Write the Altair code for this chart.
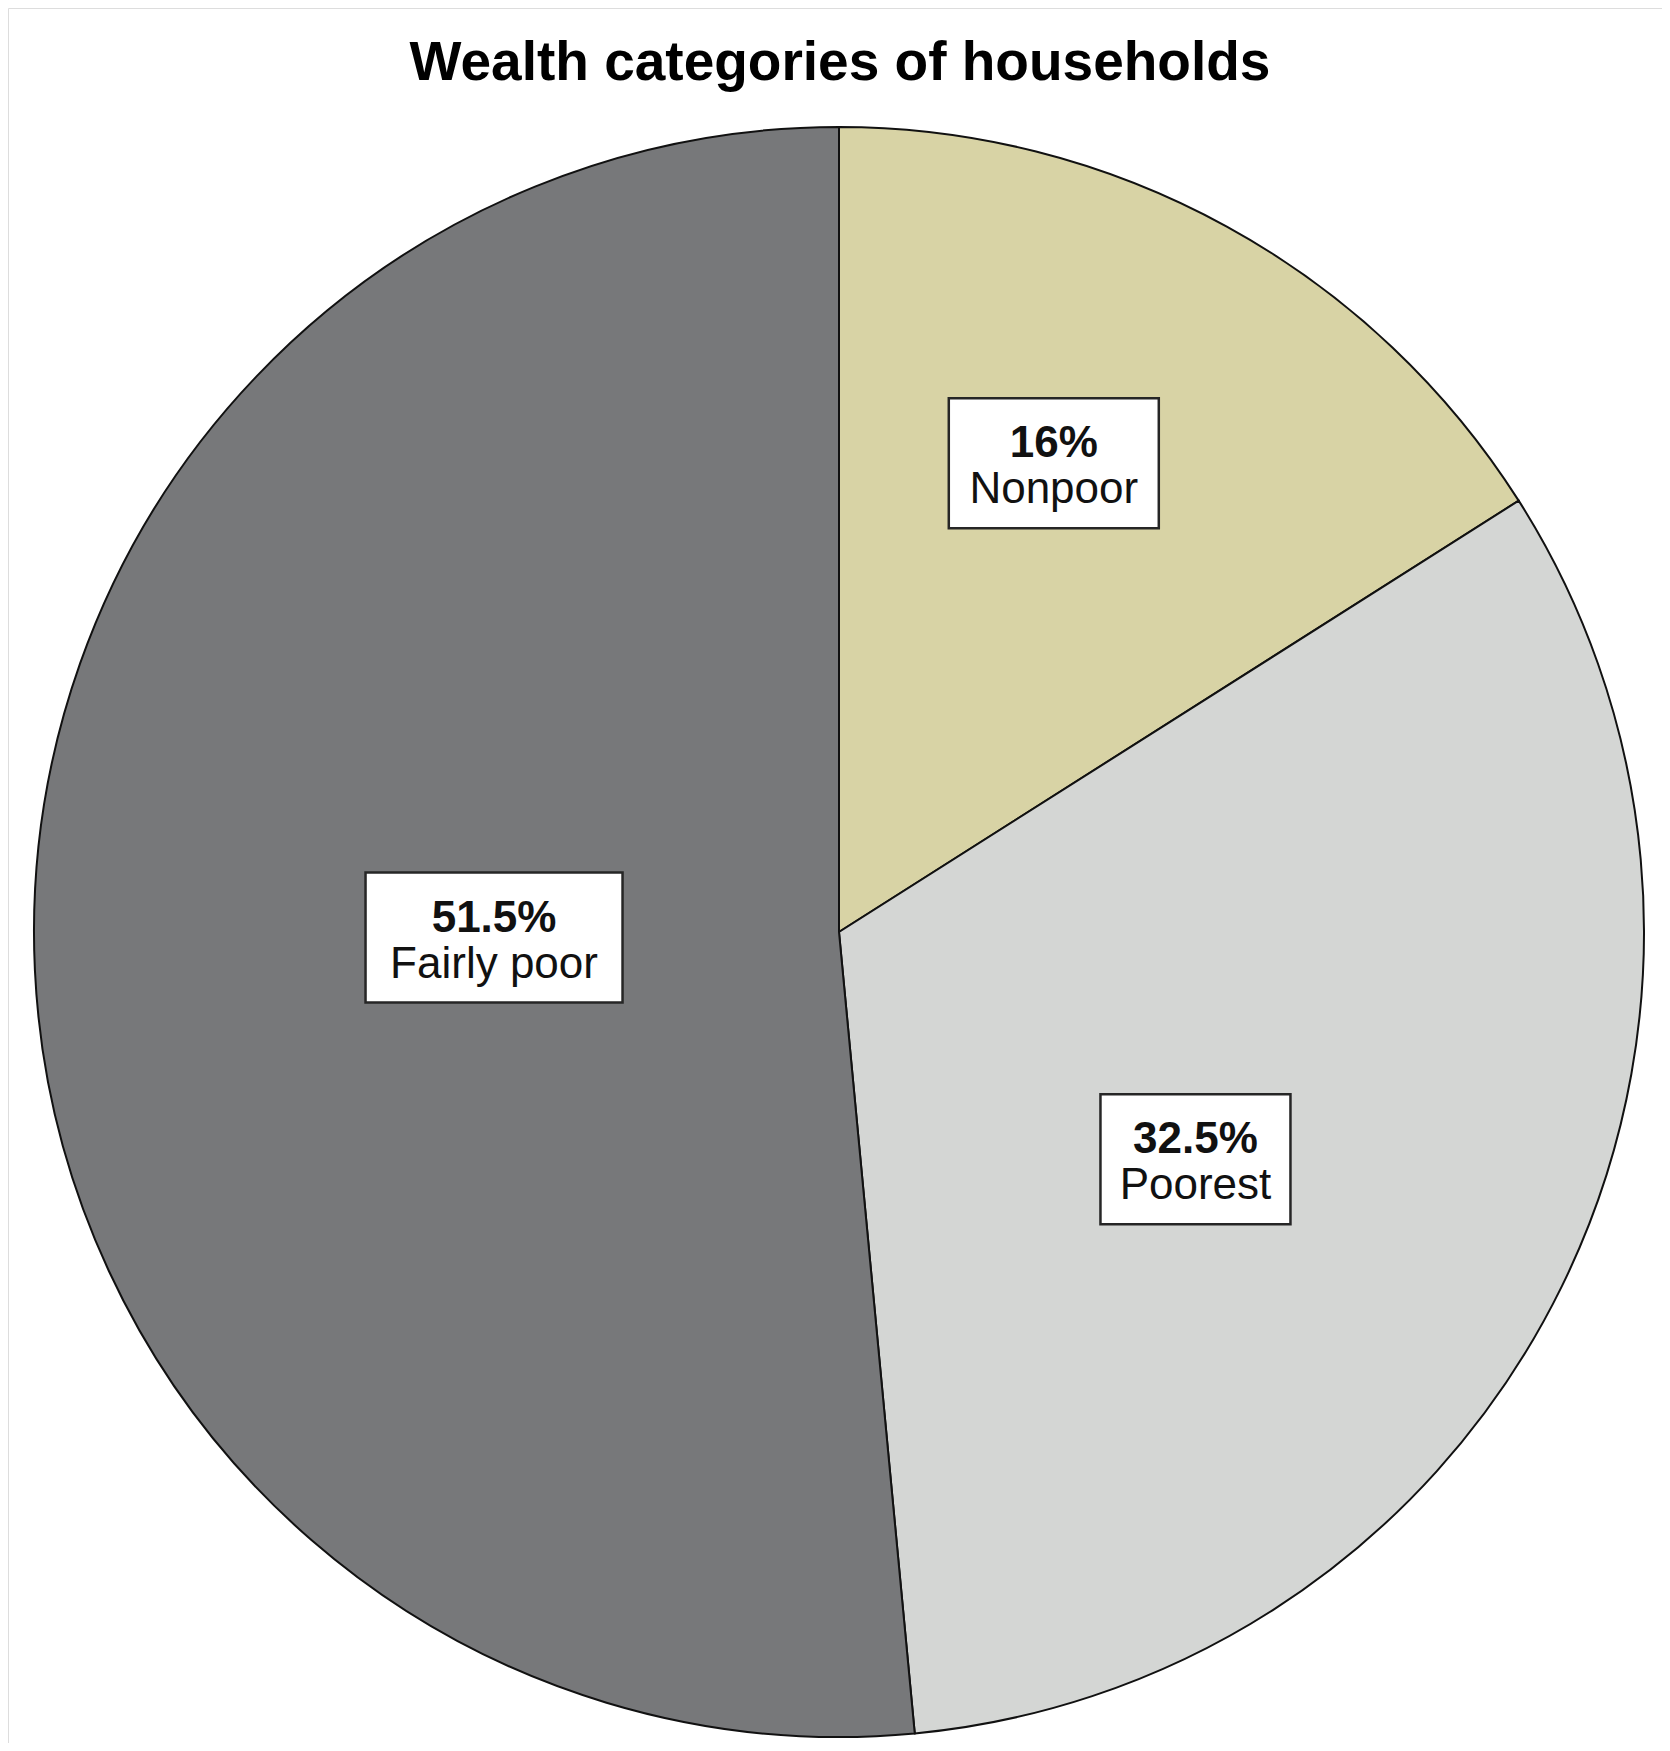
import altair as alt
import pandas as pd

# ---- data ----
categories = ["Nonpoor", "Poorest", "Fairly poor"]
percent = [16.0, 32.5, 51.5]
pct_labels = ["16%", "32.5%", "51.5%"]
title_text = "Wealth categories of households"

# ---- style ----
colors = ["#d8d3a5", "#d4d6d4", "#77787a"]
box_widths = {"Nonpoor": 210, "Poorest": 190, "Fairly poor": 257}
# small nudges of label boxes away from the sector centroid (styling only)
label_nudge_x = {"Nonpoor": -33, "Poorest": -46, "Fairly poor": -14}
label_nudge_y = {"Nonpoor": -18, "Poorest": 30, "Fairly poor": -10}
BOX_H = 130
W, H = 1654, 1735
CX, CY, R = 831, 924, 805
FONT = "Liberation Sans"

df = pd.DataFrame({
    "idx": list(range(len(categories))),
    "category": categories,
    "value": percent,
    "pct": pct_labels,
})
df["bw"] = df["category"].map(box_widths)
df["nx"] = df["category"].map(label_nudge_x)
df["ny"] = df["category"].map(label_nudge_y)

base = alt.Chart(df)

pie = base.mark_arc(radius=R, stroke="#111111", strokeWidth=2).encode(
    theta=alt.Theta("value:Q", stack=True),
    order=alt.Order("idx:Q"),
    color=alt.Color("category:N", scale=alt.Scale(domain=categories, range=colors), legend=None),
    x=alt.value(CX),
    y=alt.value(CY),
)

lab = base.transform_window(
    cum="sum(value)", sort=[alt.SortField("idx")], frame=[None, 0]
).transform_joinaggregate(
    total="sum(value)"
).transform_calculate(
    mid="2*PI*(datum.cum - datum.value/2)/datum.total",
    half="PI*datum.value/datum.total",
).transform_calculate(
    lr=f"2/3*{R}*sin(datum.half)/datum.half",
).transform_calculate(
    lx=f"{CX} + datum.lr*sin(datum.mid) + datum.nx",
    ly=f"{CY} - datum.lr*cos(datum.mid) + datum.ny",
).transform_calculate(
    x0="datum.lx - datum.bw/2",
    x1="datum.lx + datum.bw/2",
    y0=f"datum.ly - {BOX_H/2}",
    y1=f"datum.ly + {BOX_H/2}",
)

boxes = lab.mark_rect(fill="white", stroke="#262626", strokeWidth=2.5).encode(
    x=alt.X("x0:Q", scale=None, axis=None),
    x2="x1:Q",
    y=alt.Y("y0:Q", scale=None, axis=None),
    y2="y1:Q",
)

pct_text = lab.mark_text(
    font=FONT, fontSize=44, fontWeight="bold", color="#111111",
    align="center", baseline="alphabetic", dy=-6,
).encode(
    x=alt.X("lx:Q", scale=None, axis=None),
    y=alt.Y("ly:Q", scale=None, axis=None),
    text="pct:N",
)

name_text = lab.mark_text(
    font=FONT, fontSize=44, color="#111111",
    align="center", baseline="alphabetic", dy=40,
).encode(
    x=alt.X("lx:Q", scale=None, axis=None),
    y=alt.Y("ly:Q", scale=None, axis=None),
    text="category:N",
)

title = alt.Chart(pd.DataFrame({"t": [title_text]})).mark_text(
    font=FONT, fontSize=55, fontWeight="bold", color="#000000",
    align="center", baseline="alphabetic",
).encode(
    text="t:N",
    x=alt.value(832),
    y=alt.value(72),
)

chart = alt.layer(pie, boxes, pct_text, name_text, title).properties(
    width=W, height=H,
    autosize=alt.AutoSizeParams(type="none"),
    padding=0,
).configure_view(stroke=None).configure(background="white")

chart.save("out.html", embed_options={"renderer": "svg", "actions": False})
